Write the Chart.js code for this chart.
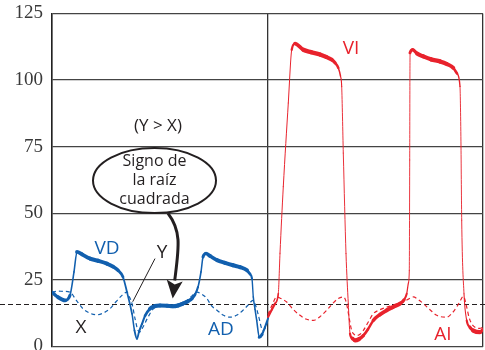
<!DOCTYPE html>
<html>
<head>
<meta charset="utf-8">
<script src="https://cdn.jsdelivr.net/npm/chart.js@4/dist/chart.umd.min.js"></script>
<style>
  html, body { margin: 0; padding: 0; background: #fff; }
  #wrap { width: 485px; height: 350px; }
</style>
</head>
<body>
<div id="wrap"><canvas id="c" width="485" height="350"></canvas></div>
<script>
// Time axis (arbitrary units), pressure axis in mmHg
const yTicks = [0, 25, 50, 75, 100, 125];
const tMax = 431;
const divider = 216;      // separation between right-heart and left-heart panels
const baseline = 16;      // dashed reference level

// Right ventricle (VD), solid blue
const tVD = [0, 6, 13, 18, 22, 25, 30, 38, 46, 55, 61, 66, 71, 75, 80, 82.5, 85, 87, 90, 93, 98, 103, 108, 115, 121, 126, 131, 136, 140, 143, 146, 149, 151, 154, 158, 165, 173, 181, 188, 195, 198, 200, 201.3, 203, 204.7, 207.3, 210, 213, 216];
const pVD = [20.4, 18.5, 17.3, 19.2, 28, 35.5, 34.6, 33, 32.2, 31.1, 30, 28.6, 26.1, 20.4, 12.3, 6, 2.9, 5.5, 8.5, 11.5, 14.2, 15.2, 15.4, 15.3, 15.1, 15.4, 16.1, 17, 18, 19.5, 22.3, 28, 33.6, 34.9, 34, 32.4, 31.4, 30.5, 29.8, 28.6, 27.2, 25.5, 18.6, 14, 9.8, 3.5, 4.5, 7.3, 10.5];

// Right atrium (AD), dashed blue
const tAD = [0, 6, 11, 18, 24, 31, 38, 45, 51, 58, 64, 70, 75, 77, 80, 83, 86, 88, 91, 96, 101, 108, 121, 128, 135, 140, 145, 149, 155, 159, 165, 171, 178, 185, 191, 196, 201, 204, 206, 211, 214, 216];
const pAD = [20.3, 20.8, 20.7, 20.4, 17.5, 14.2, 12.5, 11.9, 12.5, 14.2, 16.8, 19.2, 20.4, 19, 16.1, 10.5, 6, 5.5, 7.3, 11, 14, 15.2, 15.4, 16.2, 17.3, 19, 20.4, 19.8, 18, 15.5, 13.6, 11.8, 11, 11.8, 13.6, 15.5, 17.3, 15, 12.3, 6, 7.5, 10];

// Left ventricle (VI), solid red
const tVI = [216, 220, 223, 226.3, 228, 231.3, 236.3, 239.7, 243, 251.3, 259, 268, 274, 279.7, 283, 286.3, 288.5, 289.7, 291.3, 294, 296.3, 298, 300.5, 303, 307, 311.3, 316, 321.3, 328, 334.7, 341, 348, 352, 354.7, 356.5, 357.3, 357.7, 358, 360.7, 365, 371.3, 379, 388, 395, 401.3, 405, 408, 409, 409.7, 412, 414.7, 418, 421.3, 428, 431];
const pVI = [11, 14, 16.1, 19.8, 35, 60, 91.4, 111.4, 113.7, 111.4, 110.5, 109.6, 108.7, 107.7, 106.5, 104.6, 101.5, 97.6, 72.6, 34.9, 16.1, 4.8, 3, 2.3, 2.8, 4.1, 6.5, 9.8, 12, 13.6, 14.8, 16.1, 17.5, 19.8, 24, 28.6, 70, 110.2, 111.4, 110, 108.9, 107.8, 107, 106, 104.6, 102.5, 97.6, 75, 47.4, 19.8, 9.8, 7.2, 6, 5.4, 6.5];

// Left atrium (AI), dashed red
const tAI = [216, 220, 224.7, 229, 234.7, 241, 248, 254, 261.3, 268, 274.7, 281, 286.3, 291.3, 293.5, 295.3, 297.5, 299.7, 302, 304.7, 308, 311.3, 316, 321.3, 328, 334.7, 343, 351.3, 356, 361.3, 366, 371.3, 378, 384.7, 394.7, 400, 404.7, 408, 411.3, 413, 414.7, 417, 419.7, 423, 428, 431];
const pAI = [12, 15.5, 18.6, 18, 16.7, 14, 11.7, 10.3, 9.8, 11.2, 13.6, 16.3, 18, 18.6, 17.5, 14.8, 10, 6, 4.6, 4.1, 4.6, 6, 9, 12.3, 13.8, 14.8, 15.8, 16.7, 17.7, 18.6, 17.7, 16.1, 13.8, 11.7, 11, 12.5, 14.8, 17, 18.8, 17.5, 14.8, 11, 8.5, 7.2, 6.8, 7.5];

const BLUE = '#115fae';
const RED = '#e8222c';
const INK = '#231f20';

const pts = (ts, vs) => ts.map((t, i) => ({ x: t, y: vs[i] }));

// Stroke gets thinner on steep parts of the trace
function slopeWidth(thin, thick) {
  return ctx => {
    const dx = ctx.p1.x - ctx.p0.x, dy = ctx.p1.y - ctx.p0.y;
    const len = Math.hypot(dx, dy) || 1;
    const c = Math.abs(dx) / len;
    return thin + (thick - thin) * Math.pow(c, 1.3);
  };
}

const annotations = {
  id: 'annotations',
  beforeDatasetsDraw(chart) {
    const { ctx, scales: { y } } = chart;
    const yy = Math.round(y.getPixelForValue(baseline)) + 0.5;
    ctx.save();
    ctx.strokeStyle = INK;
    ctx.lineWidth = 1.2;
    ctx.setLineDash([5, 3]);
    ctx.beginPath();
    ctx.moveTo(0, yy);
    ctx.lineTo(chart.width, yy);
    ctx.stroke();
    ctx.restore();
  },
  afterDatasetsDraw(chart) {
    const { ctx, scales: { x, y } } = chart;
    const X = v => x.getPixelForValue(v), Y = v => y.getPixelForValue(v);
    ctx.save();
    ctx.textAlign = 'center';
    ctx.textBaseline = 'middle';

    const label = (txt, t, v, color, size) => {
      ctx.fillStyle = color;
      ctx.font = size + 'px "Open Sans", sans-serif';
      ctx.fillText(txt, X(t), Y(v));
    };
    label('VD', 55, 36.8, BLUE, 19);
    label('AD', 169, 6.2, BLUE, 19);
    label('VI', 299, 111.8, RED, 19);
    label('AI', 391, 4.6, RED, 19);
    label('X', 29, 7.0, INK, 19);
    label('Y', 110, 35.2, INK, 19);
    label('(Y > X)', 106, 82.7, INK, 17);

    // pointer from Y to the atrial wave
    ctx.strokeStyle = INK;
    ctx.lineWidth = 1;
    ctx.beginPath();
    ctx.moveTo(X(103), Y(33));
    ctx.lineTo(X(80.7), Y(16.8));
    ctx.stroke();

    // ellipse with caption
    const cx = X(102.5), cy = Y(62.3);
    ctx.lineWidth = 2;
    ctx.beginPath();
    ctx.ellipse(cx, cy, 61.5, 32.5, 0, 0, Math.PI * 2);
    ctx.stroke();
    ctx.fillStyle = INK;
    ctx.font = '16px "Open Sans", sans-serif';
    ctx.fillText('Signo de', cx, cy - 19);
    ctx.fillText('la raíz', cx, cy);
    ctx.fillText('cuadrada', cx, cy + 19);

    // curved arrow down to the diastolic plateau
    const sx = X(116), sy = Y(50);
    const tx = X(120.7), ty = Y(18);
    ctx.lineWidth = 3;
    ctx.beginPath();
    ctx.moveTo(sx, sy);
    ctx.bezierCurveTo(sx + 14, sy + 18, tx + 6, ty - 50, tx + 2, ty - 18);
    ctx.stroke();
    ctx.beginPath();
    ctx.moveTo(tx, ty);
    ctx.lineTo(tx - 6, ty - 19);
    ctx.lineTo(tx + 2, ty - 14);
    ctx.lineTo(tx + 10, ty - 17);
    ctx.closePath();
    ctx.fill();
    ctx.restore();
  }
};

new Chart(document.getElementById('c'), {
  type: 'line',
  data: {
    datasets: [
      { label: 'AD', data: pts(tAD, pAD), borderColor: BLUE, borderWidth: 1.2, borderDash: [4, 3] },
      { label: 'AI', data: pts(tAI, pAI), borderColor: RED, borderWidth: 1.2, borderDash: [4, 3] },
      { label: 'VD', data: pts(tVD, pVD), borderColor: BLUE, borderCapStyle: 'round',
        segment: { borderWidth: slopeWidth(1.3, 4.2) } },
      { label: 'VI', data: pts(tVI, pVI), borderColor: RED, borderCapStyle: 'round',
        segment: { borderWidth: slopeWidth(0.9, 4.5) } }
    ]
  },
  options: {
    responsive: false,
    animation: false,
    events: [],
    layout: { padding: { top: 13.5, right: 2, bottom: 3.5, left: 0 } },
    elements: {
      point: { radius: 0 },
      line: { cubicInterpolationMode: 'monotone', fill: false }
    },
    plugins: { legend: { display: false }, tooltip: { enabled: false } },
    scales: {
      x: {
        type: 'linear', min: 0, max: tMax,
        afterBuildTicks: s => { s.ticks = [0, divider, tMax].map(v => ({ value: v })); },
        afterFit: s => { s.height = 0; s.paddingLeft = 0; s.paddingRight = 0; s.paddingTop = 0; s.paddingBottom = 0; },
        ticks: { display: false },
        grid: { color: '#333', lineWidth: 1.3, drawTicks: false },
        border: { display: false }
      },
      y: {
        min: 0, max: 125,
        afterBuildTicks: s => { s.ticks = yTicks.map(v => ({ value: v })); },
        afterFit: s => { s.width = 52; s.paddingTop = 0; s.paddingBottom = 0; },
        ticks: { padding: 9, color: '#3a3a3a', font: { family: '"Liberation Serif", serif', size: 19 } },
        grid: { color: '#444', lineWidth: 1.3, drawTicks: false },
        border: { color: '#222', width: 1.5 }
      }
    }
  },
  plugins: [annotations]
});
</script>
</body>
</html>
